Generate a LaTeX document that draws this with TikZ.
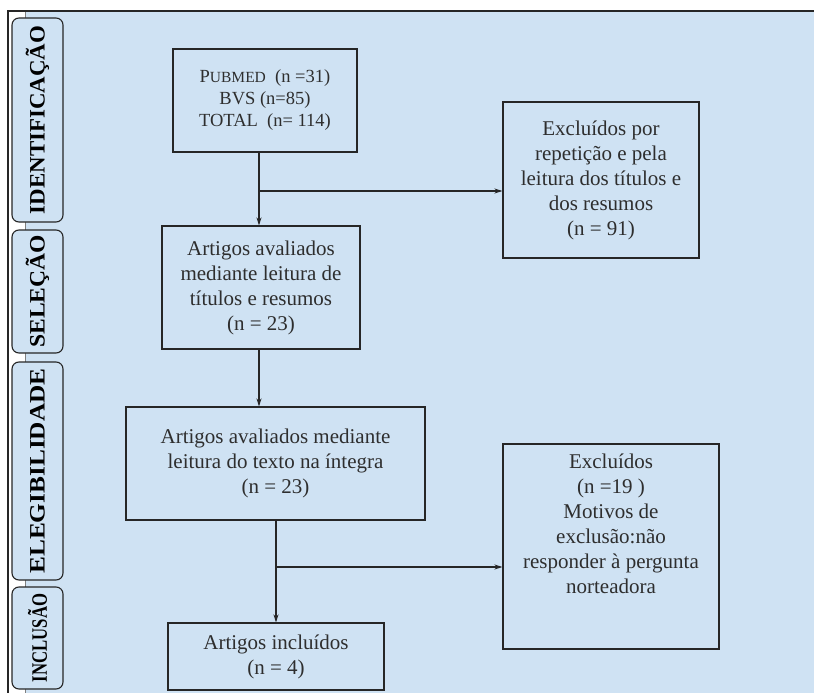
\documentclass[tikz,border=0pt]{standalone}
\usepackage{fontspec}
\setmainfont{Liberation Serif}
\usepackage{graphicx}
\usetikzlibrary{arrows.meta}
\definecolor{fundo}{HTML}{CFE2F3}
\definecolor{traco}{HTML}{262626}
\definecolor{letra}{HTML}{2E2E2E}

\begin{document}
\begin{tikzpicture}[x=1pt, y=-1pt,
    caixa/.style={draw=traco, line width=1.1pt, text=letra, align=center, inner sep=0pt,
      font=\fontsize{21}{25}\selectfont},
    fase/.style={draw=traco, line width=1.1pt, fill=fundo, rounded corners=7pt, rotate=90,
      minimum height=51pt, inner sep=0pt, text=black, font=\bfseries\fontsize{22}{25}\selectfont},
    seta/.style={draw=traco, line width=1.1pt, -{Stealth[length=8pt, width=5pt]}}]

    \useasboundingbox (0,0) rectangle (814,693);
    \fill[fundo] (25,11) rectangle (814,693);
    \draw[gray, line width=0.6pt] (25,11) -- (25,693);
    \draw[traco, line width=1.4pt] (8,693) -- (8,11) -- (814,11);

    % fases do lado esquerdo
    \node[fase, minimum width=204pt] (ident) at (37.5,120) {\scalebox{1.04}[1]{IDENTIFICAÇÃO}};
    \node[fase, minimum width=123pt] (selec) at (37.5,291.5) {\scalebox{1.07}[1]{SELEÇÃO}};
    \node[fase, minimum width=218pt] (elegi) at (37.5,471) {\scalebox{1.15}[1]{ELEGIBILIDADE}};
    \node[fase, minimum width=102pt] (inclu) at (37.5,638) {\scalebox{0.76}[1]{INCLUSÃO}};

    \node[caixa, minimum width=184pt, minimum height=103pt, font=\fontsize{18.5}{22}\selectfont]
        (pubmed) at (265,100.5) {P{\fontsize{15.5}{22}\selectfont UBMED}\ \ (n =31)\\ BVS (n=85)\\ TOTAL\ \ (n= 114)};
    \node[caixa, minimum width=196pt, minimum height=156pt] (excl1) at (601,180)
        {Excluídos por\\ repetição e pela\\ leitura dos títulos e\\ dos resumos\\ (n = 91)};
    \node[caixa, minimum width=198pt, minimum height=123pt] (sel) at (261,287.5)
        {Artigos avaliados\\ mediante leitura de\\ títulos e resumos\\ (n = 23)};
    \node[caixa, minimum width=299pt, minimum height=113pt] (eleg) at (275.5,463.5)
        {Artigos avaliados mediante\\ leitura do texto na íntegra\\ (n = 23)};
    \node[caixa] (excl2) at (611,546.5)
        {\parbox[c][205pt][t]{216pt}{\centering\vspace{10pt}Excluídos\\ (n =19 )\\ Motivos de\\ exclusão:não\\ responder à pergunta\\ norteadora}};
    \node[caixa, minimum width=216pt, minimum height=67pt] (incl) at (276,656.5)
        {Artigos incluídos\\ (n = 4)};

    % setas
    \coordinate (j1) at (259,191);
    \coordinate (j2) at (276,567);
    \draw[seta] (pubmed.south -| j1) -- (sel.north -| j1);
    \draw[seta] (j1) -- (j1 -| excl1.west);
    \draw[seta] (sel.south -| j1) -- (eleg.north -| j1);
    \draw[seta] (eleg.south -| incl.north) -- (incl.north);
    \draw[seta] (j2) -- (j2 -| excl2.west);

\end{tikzpicture}
\end{document}
